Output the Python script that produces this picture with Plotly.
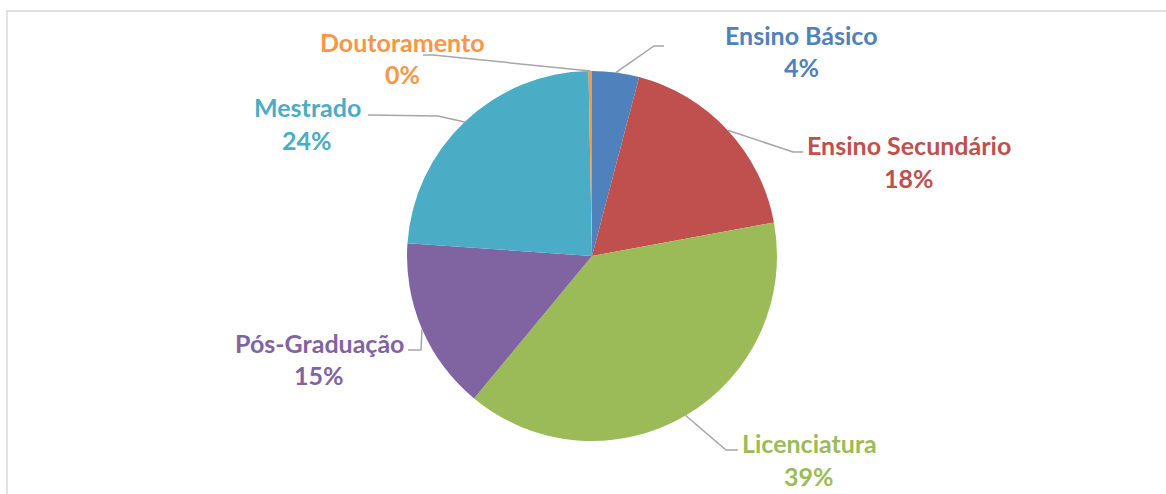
import math
import plotly.graph_objects as go

# ---- data ----
categories = ["Ensino Básico", "Ensino Secundário", "Licenciatura",
              "Pós-Graduação", "Mestrado", "Doutoramento"]
values = [4.1, 18.0, 38.9, 15.1, 23.6, 0.3]
colors = ["#4F81BD", "#C0504D", "#9BBB59", "#8064A2", "#4BACC6", "#F79646"]

W, H = 1166, 494
CX, CY, R = 592, 256, 185  # pie centre/radius in pixels

# label layout (pixel positions): name centre, percent centre, leader elbow, leader end
label_layout = {
    "Ensino Básico":     dict(name=(801, 35), pct=(801, 67), elbow=(654, 46), end=(664, 46)),
    "Ensino Secundário": dict(name=(909, 145), pct=(909, 178), elbow=(793, 152), end=(803, 152)),
    "Licenciatura":      dict(name=(809, 443), pct=(809, 476), elbow=(726, 450), end=(738, 450)),
    "Pós-Graduação":     dict(name=(319, 343), pct=(319, 375), elbow=(421, 350), end=(408, 350)),
    "Mestrado":          dict(name=(307, 107), pct=(307, 140), elbow=(438, 116), end=(368, 115)),
    "Doutoramento":      dict(name=(402, 42), pct=(402, 74), elbow=(433, 55), end=(423, 55)),
}

def px(x):
    return x / W

def py(y):
    return 1 - y / H

fig = go.Figure()
fig.add_trace(go.Pie(
    labels=categories,
    values=values,
    sort=False,
    direction="clockwise",
    rotation=0,
    marker=dict(colors=colors, line=dict(width=0)),
    textinfo="none",
    hoverinfo="label+percent",
    showlegend=False,
    domain=dict(x=[px(CX - R), px(CX + R)], y=[py(CY + R), py(CY - R)]),
))

total = sum(values)
shapes = []
annotations = []
cum = 0.0
FONT = "Lato"
for cat, v, col in zip(categories, values, colors):
    mid = (cum + v / 2) / total * 2 * math.pi
    cum += v
    sx = CX + R * math.sin(mid)
    sy = CY - R * math.cos(mid)
    L = label_layout[cat]
    ex, ey = L["elbow"]
    tx, ty = L["end"]
    shapes.append(dict(
        type="path", xref="paper", yref="paper",
        path=f"M {px(sx)},{py(sy)} L {px(ex)},{py(ey)} L {px(tx)},{py(ty)}",
        line=dict(color="#A6A6A6", width=1.5),
    ))
    pct = f"{round(v / total * 100)}%"
    for txt, (x, y) in ((cat, L["name"]), (pct, L["pct"])):
        annotations.append(dict(
            text=txt, x=px(x), y=py(y), xref="paper", yref="paper",
            xanchor="center", yanchor="middle", showarrow=False,
            font=dict(family=FONT, size=25, color=col, weight="bold"),
        ))

# chart frame
shapes.append(dict(type="rect", xref="paper", yref="paper",
                   x0=px(7), x1=px(W + 20), y0=py(H + 20), y1=py(11),
                   line=dict(color="#D9D9D9", width=1.5)))

fig.update_layout(
    width=W, height=H,
    margin=dict(l=0, r=0, t=0, b=0),
    paper_bgcolor="white", plot_bgcolor="white",
    shapes=shapes, annotations=annotations,
)

fig.write_html("out.html", config={"displayModeBar": False},
               post_script="document.body.style.margin='0';document.body.style.overflow='hidden';")
